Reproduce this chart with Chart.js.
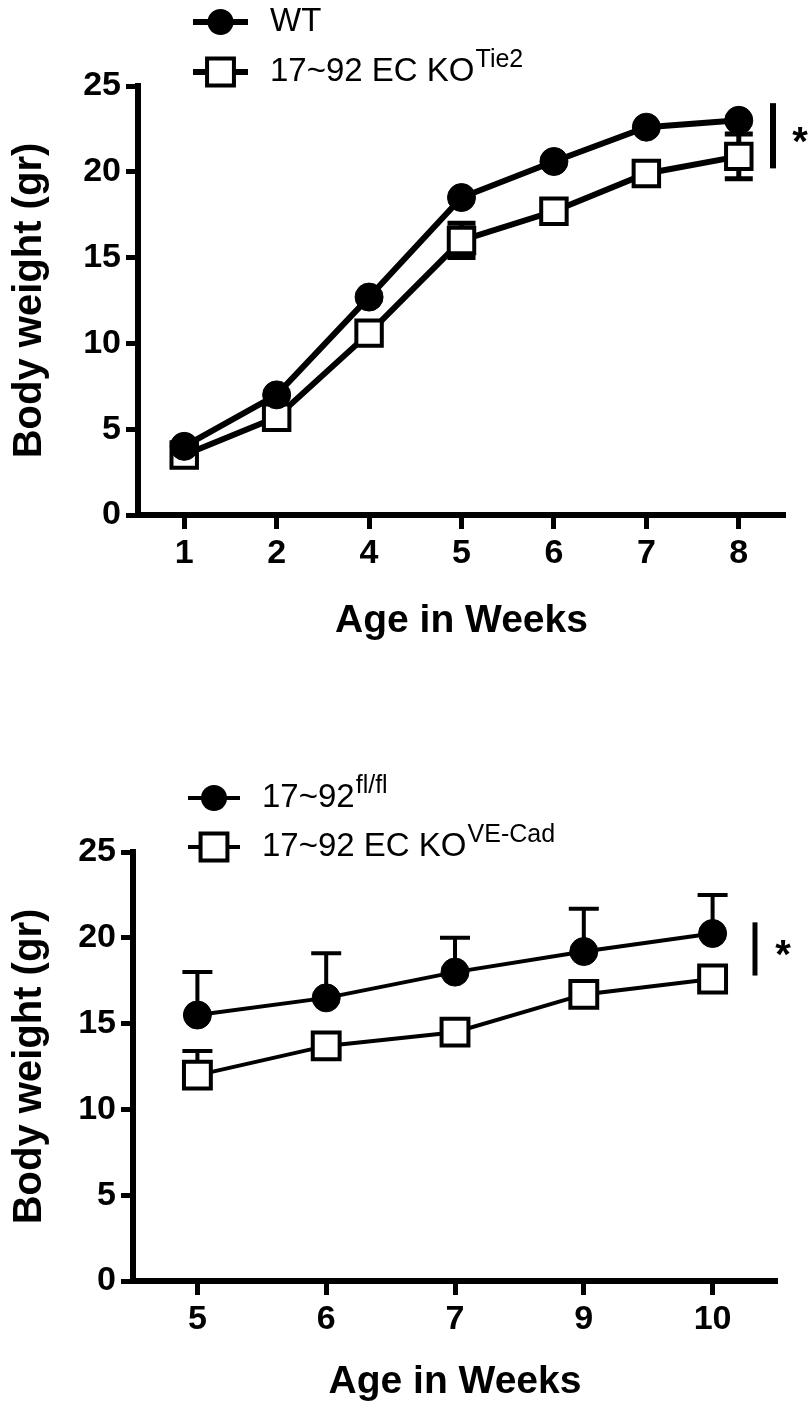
<!DOCTYPE html>
<html>
<head>
<meta charset="utf-8">
<title>Body weight</title>
<script src="https://cdn.jsdelivr.net/npm/chart.js@4.4.1/dist/chart.umd.min.js"></script>
<style>
  body { margin: 0; background: #fff; }
  #wrap { position: relative; width: 810px; height: 1408px; }
  canvas { position: absolute; left: 0; }
</style>
</head>
<body>
<div id="wrap">
  <canvas id="topChart" width="810" height="700" style="top:0px"></canvas>
  <canvas id="bottomChart" width="810" height="708" style="top:700px"></canvas>
</div>
<script>
// ---- top panel (Tie2) ----
const topWeeks = ['1', '2', '4', '5', '6', '7', '8'];
const topWT = [4.0, 7.0, 12.7, 18.5, 20.6, 22.6, 23.0];
const topWTErr = [0, 0, 0, 0, 0, 0, 0]; // hidden behind the dots
const topKO = [3.5, 5.7, 10.6, 16.0, 17.7, 19.9, 20.9];
const topKOErr = [0, 0, 0, 1.0, 0, 0, 1.3];
const topNames = ['WT', '17~92 EC KO'];
const topSups = ['', 'Tie2'];
const topSig = [20.2, 24.0];

// ---- bottom panel (VE-Cad) ----
const botWeeks = ['5', '6', '7', '9', '10'];
const botFl = [15.5, 16.5, 18.0, 19.2, 20.25];
const botFlErr = [2.5, 2.6, 2.0, 2.5, 2.25];
const botKO = [12.0, 13.7, 14.5, 16.7, 17.6];
const botKOErr = [1.4, 0, 0, 0, 0];
const botNames = ['17~92', '17~92 EC KO'];
const botSups = ['fl/fl', 'VE-Cad'];
const botSig = [17.8, 20.9];

const yTicks = [0, 5, 10, 15, 20, 25];
const FONT = '"Liberation Sans", Arial, Helvetica, sans-serif';

// error bars drawn under the markers
const errorBars = {
  id: 'errorBars',
  beforeDatasetsDraw(chart) {
    const ctx = chart.ctx;
    const yScale = chart.scales.y;
    chart.data.datasets.forEach((ds, i) => {
      if (!ds.errors) return;
      const meta = chart.getDatasetMeta(i);
      ctx.save();
      ctx.strokeStyle = '#000';
      ctx.lineWidth = ds.errWidth;
      meta.data.forEach((pt, j) => {
        const v = ds.data[j];
        const e = ds.errors[j];
        if (!e) return;
        const top = yScale.getPixelForValue(v + e);
        const bot = ds.upOnly ? pt.y : yScale.getPixelForValue(v - e);
        ctx.beginPath();
        ctx.moveTo(pt.x, top);
        ctx.lineTo(pt.x, bot);
        ctx.moveTo(pt.x - ds.capHalf, top);
        ctx.lineTo(pt.x + ds.capHalf, top);
        if (!ds.upOnly) {
          ctx.moveTo(pt.x - ds.capHalf, bot);
          ctx.lineTo(pt.x + ds.capHalf, bot);
        }
        ctx.stroke();
      });
      ctx.restore();
    });
  }
};

function drawMarker(ctx, style, x, y, r, bw) {
  ctx.save();
  ctx.strokeStyle = '#000';
  ctx.lineWidth = bw;
  if (style === 'circle') {
    ctx.fillStyle = '#000';
    ctx.beginPath();
    ctx.arc(x, y, r, 0, Math.PI * 2);
    ctx.fill();
  } else {
    const s = Math.SQRT1_2 * r;
    ctx.fillStyle = '#fff';
    ctx.beginPath();
    ctx.rect(x - s, y - s, 2 * s, 2 * s);
    ctx.fill();
    ctx.stroke();
  }
  ctx.restore();
}

// legend with superscripts and the significance bar
const keyAndSig = {
  id: 'keyAndSig',
  afterDraw(chart, args, opts) {
    const ctx = chart.ctx;
    chart.data.datasets.forEach((ds, i) => {
      const y = opts.rows[i];
      ctx.save();
      ctx.strokeStyle = '#000';
      ctx.lineWidth = ds.borderWidth;
      ctx.beginPath();
      ctx.moveTo(opts.lineX[0], y);
      ctx.lineTo(opts.lineX[1], y);
      ctx.stroke();
      ctx.restore();
      drawMarker(ctx, ds.pointStyle, (opts.lineX[0] + opts.lineX[1]) / 2, y,
        ds.pointStyle === 'circle' ? opts.dot : opts.box, ds.pointBorderWidth);

      ctx.save();
      ctx.fillStyle = '#000';
      ctx.textBaseline = 'middle';
      ctx.font = opts.font;
      ctx.fillText(ds.label, opts.textX, y);
      const w = ctx.measureText(ds.label).width;
      if (opts.sups[i]) {
        ctx.font = opts.supFont;
        ctx.fillText(opts.sups[i], opts.textX + w + 1, y - 12);
      }
      ctx.restore();
    });

    const area = chart.chartArea;
    const yScale = chart.scales.y;
    const sx = area.right + opts.sigDx;
    ctx.save();
    ctx.strokeStyle = '#000';
    ctx.lineWidth = opts.sigWidth;
    ctx.beginPath();
    ctx.moveTo(sx, yScale.getPixelForValue(opts.sig[0]));
    ctx.lineTo(sx, yScale.getPixelForValue(opts.sig[1]));
    ctx.stroke();
    ctx.fillStyle = '#000';
    ctx.font = 'bold 40px ' + FONT;
    ctx.textAlign = 'center';
    ctx.textBaseline = 'middle';
    ctx.fillText('*', area.right + opts.starDx,
      yScale.getPixelForValue((opts.sig[0] + opts.sig[1]) / 2) + 8);
    ctx.restore();
  }
};

function makeChart(id, cfg) {
  return new Chart(document.getElementById(id), {
    type: 'line',
    data: {
      labels: cfg.labels,
      datasets: cfg.datasets
    },
    options: {
      responsive: false,
      animation: false,
      layout: { padding: cfg.padding },
      plugins: {
        legend: { display: false },
        tooltip: { enabled: false },
        keyAndSig: cfg.key
      },
      scales: {
        x: {
          type: 'category',
          offset: true,
          afterFit: (s) => { s.height = cfg.xHeight; },
          border: { display: true, color: '#000', width: cfg.axisWidth },
          grid: {
            offset: false, drawOnChartArea: false, drawTicks: true,
            tickLength: 14, tickWidth: 5, tickColor: '#000'
          },
          ticks: {
            color: '#000', padding: 4, maxRotation: 0, autoSkip: false,
            font: { family: FONT, size: 34, weight: 'bold' }
          },
          title: {
            display: true, text: 'Age in Weeks', color: '#000',
            font: { family: FONT, size: 39, weight: 'bold' },
            padding: { top: 0, bottom: cfg.xTitlePad }
          }
        },
        y: {
          min: 0, max: 25,
          afterFit: (s) => { s.width = cfg.yWidth; },
          afterBuildTicks: (s) => { s.ticks = yTicks.map(v => ({ value: v })); },
          border: { display: true, color: '#000', width: cfg.axisWidth },
          grid: {
            drawOnChartArea: false, drawTicks: true,
            tickLength: 12, tickWidth: 5, tickColor: '#000'
          },
          ticks: {
            color: '#000', padding: 5,
            font: { family: FONT, size: 34, weight: 'bold' }
          },
          title: {
            display: true, text: 'Body weight (gr)', color: '#000',
            font: { family: FONT, size: 40, weight: 'bold' },
            padding: { top: 6, bottom: 0 }
          }
        }
      }
    },
    plugins: [errorBars, keyAndSig]
  });
}

function series(name, values, errs, style, opt) {
  return {
    label: name,
    data: values,
    errors: errs,
    upOnly: opt.upOnly,
    errWidth: opt.errWidth,
    capHalf: opt.capHalf,
    borderColor: '#000',
    borderWidth: opt.lineWidth,
    tension: 0,
    fill: false,
    pointStyle: style,
    pointRadius: style === 'circle' ? opt.dot : opt.box,
    pointBorderWidth: style === 'circle' ? 1 : 4,
    pointBackgroundColor: style === 'circle' ? '#000' : '#fff',
    pointBorderColor: '#000',
    clip: false
  };
}

const topOpt = { upOnly: false, errWidth: 5, capHalf: 14, lineWidth: 6, dot: 14, box: 18 };
makeChart('topChart', {
  labels: topWeeks,
  datasets: [
    series(topNames[0], topWT, topWTErr, 'circle', topOpt),
    series(topNames[1], topKO, topKOErr, 'rect', topOpt)
  ],
  padding: { top: 86, right: 25, left: 0, bottom: 0 },
  xHeight: 185, yWidth: 138, axisWidth: 6, xTitlePad: 55,
  key: {
    rows: [22, 72], lineX: [193, 248], textX: 270, dot: 13, box: 19,
    font: '33px ' + FONT, supFont: '25px ' + FONT, sups: topSups,
    sig: topSig, sigDx: -12, starDx: 15, sigWidth: 6
  }
});

const botOpt = { upOnly: true, errWidth: 4, capHalf: 15, lineWidth: 4, dot: 14, box: 19 };
makeChart('bottomChart', {
  labels: botWeeks,
  datasets: [
    series(botNames[0], botFl, botFlErr, 'circle', botOpt),
    series(botNames[1], botKO, botKOErr, 'rect', botOpt)
  ],
  padding: { top: 152, right: 33, left: 0, bottom: 0 },
  xHeight: 127, yWidth: 133, axisWidth: 6, xTitlePad: 2,
  key: {
    rows: [98, 147], lineX: [188, 240], textX: 262, dot: 13, box: 19,
    font: '33px ' + FONT, supFont: '25px ' + FONT, sups: botSups,
    sig: botSig, sigDx: -22, starDx: 6, sigWidth: 5
  }
});
</script>
</body>
</html>
